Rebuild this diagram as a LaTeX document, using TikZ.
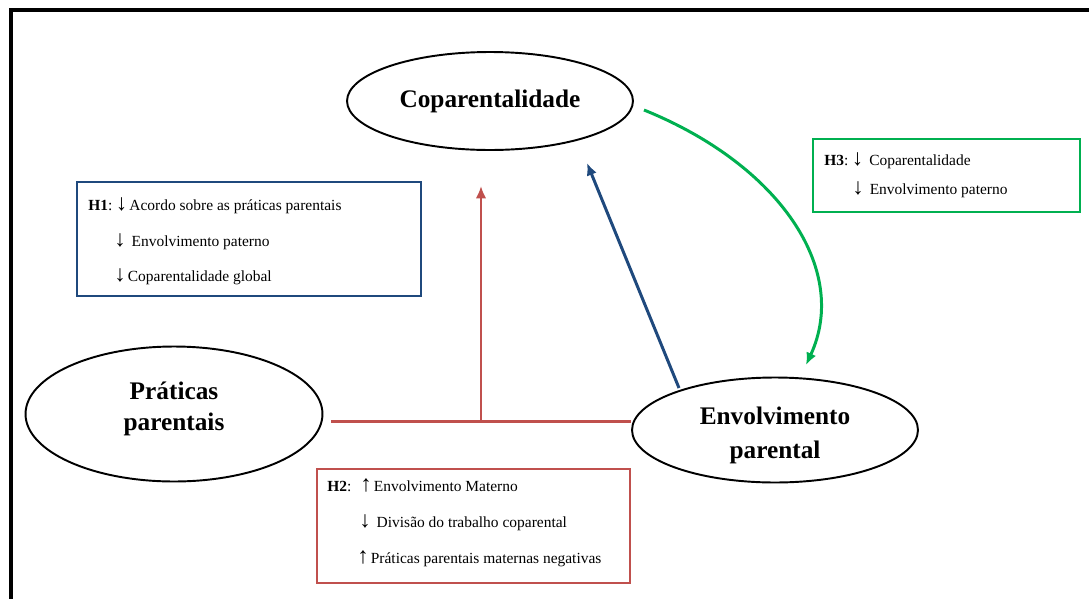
\documentclass[tikz,border=0pt]{standalone}
\usepackage{fontspec}
\setmainfont{Liberation Serif}
\usetikzlibrary{shapes.geometric,positioning,arrows.meta}

\definecolor{hred}{HTML}{C0504D}
\definecolor{hblue}{HTML}{1F497D}
\definecolor{hgreen}{HTML}{00B050}
\newcommand{\dnarr}{{\fontsize{13}{13}\selectfont ↓}\kern-1pt}
\newcommand{\uparr}{{\fontsize{13}{13}\selectfont ↑}\kern-1pt}

\begin{document}
\begin{tikzpicture}[x=0.02cm,y=-0.02cm,
	var/.style={ellipse,draw,line width=1.1pt,inner sep=0pt,align=center,
		font=\fontsize{14.4}{18}\selectfont\bfseries},
	hbox/.style={draw,line width=1.3pt,inner sep=0pt,anchor=north west},
	hline/.style={anchor=base west,inner sep=0pt,font=\fontsize{8.8}{10}\selectfont},
	link/.style={line width=1.7pt,-{Latex[length=7pt,width=6pt]}}]
	\useasboundingbox (0,0) rectangle (1089,599);
	% frame
	\draw[line width=2.3pt] (1089,10) -- (11,10) -- (11,599);

	% variables
	\node[var,minimum width=5.72cm,minimum height=1.96cm] (copa) at (490,101) {Coparentalidade};
	\node[var,minimum width=5.94cm,minimum height=2.7cm] (prat) at (174,414) {Práticas\\parentais\\[-9pt]};
	\node[var,minimum width=5.72cm,minimum height=2.1cm] (env) at (775,430) {\rule{0pt}{16pt}Envolvimento\\[1pt]parental};

	% hypotheses
	\node[hbox,draw=hblue,minimum width=6.88cm,minimum height=2.28cm] (h1box) at (76,181) {};
	\node[hline] (h1a) at (88,210) {\textbf{H1}:\kern2pt\dnarr\ Acordo sobre as práticas parentais};
	\node[hline] (h1b) at (114,246) {\dnarr\ \ Envolvimento paterno};
	\node[hline] (h1c) at (114,281) {\dnarr\ Coparentalidade global};

	\node[hbox,draw=hred,minimum width=6.26cm,minimum height=2.28cm] (h2box) at (316,468) {};
	\node[hline] (h2a) at (327,491) {\textbf{H2}: \ \uparr\ Envolvimento Materno};
	\node[hline] (h2b) at (359,527) {\dnarr\ \ Divisão do trabalho coparental};
	\node[hline] (h2c) at (357,563) {\uparr\ Práticas parentais maternas negativas};

	\node[hbox,draw=hgreen,minimum width=5.34cm,minimum height=1.46cm] (h3box) at (812,138) {};
	\node[hline] (h3a) at (824,165) {\textbf{H3}:\kern2pt\dnarr\ \ Coparentalidade};
	\node[hline] (h3b) at (852,194) {\dnarr\ \ Envolvimento paterno};

	% paths
	\coordinate (junc) at (481,421);
	\coordinate (tip) at (481,186);
	\draw[hred,line width=1.7pt] ([xshift=0.16cm]prat.east |- junc) -- (junc) -- (env.west |- junc);
	\draw[link,hred] (junc) -- (tip);
	\coordinate (envtop) at (679,388);
	\coordinate (copabot) at (587,163);
	\draw[link,hblue] (envtop) -- (copabot);
	\coordinate (coparight) at (644,110);
	\coordinate (envright) at (806,365);
	\draw[link,hgreen] (coparight) .. controls (780,165) and (850,270) .. (envright);
\end{tikzpicture}
\end{document}
